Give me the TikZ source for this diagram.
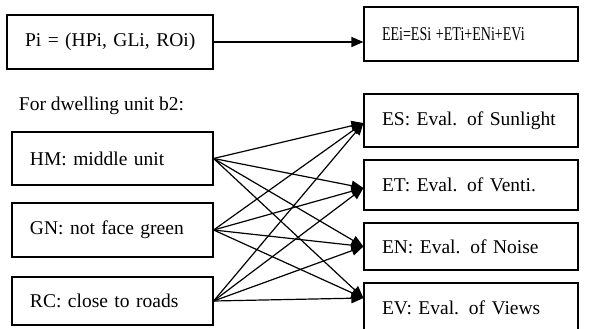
\documentclass[tikz,border=0pt]{standalone}
\usepackage{fontspec}
\setmainfont{Liberation Serif}
\usepackage{graphicx}
\usetikzlibrary{arrows.meta}

\tikzset{
    box/.style={draw, line width=1.2pt, inner xsep=18pt, inner ysep=0pt, align=left},
    lbox/.style={box, text width=165pt},
    rbox/.style={box, text width=178pt},
}

\begin{document}
\begin{tikzpicture}[>={Triangle[length=12pt, width=10pt]}, x=1pt, y=-1pt, line width=1.2pt,
        font=\fontsize{19.5}{23}\selectfont]
    \useasboundingbox (0, 0) rectangle (606, 329);

    \node[box, text width=170pt, minimum height=54pt] (P) at (110, 42) {\mbox{Pi = (HPi, GLi, ROi)}};
    \node[rbox, minimum height=54pt] (EE) at (471, 34) {\scalebox{0.72}[1]{EEi=ESi +ETi+ENi+EVi}};
    \draw[->] (P.east) -- (P.east -| EE.west);

    \node[anchor=west] (unit) at (15, 106) {For dwelling unit b2:};

    % attributes of the unit
    \node[lbox, minimum height=53pt] (HM) at (112.5, 158.5) {HM: middle unit};
    \node[lbox, minimum height=54pt] (GN) at (112.5, 230) {GN: not face green};
    \node[lbox, minimum height=48pt] (RC) at (112.5, 301) {RC: close to roads};

    % evaluations
    \node[rbox, minimum height=53pt] (ES) at (471, 120.5) {ES: Eval. of Sunlight};
    \node[rbox, minimum height=50pt] (ET) at (471, 185) {ET: Eval. of Venti.};
    \node[rbox, minimum height=47pt] (EN) at (471, 246.5) {EN: Eval. of Noise};
    \node[rbox, minimum height=50pt] (EV) at (471, 308) {EV: Eval. of Views};

    \coordinate (ESin) at ([yshift=-2.5pt]ES.west);
    \coordinate (ETin) at ([yshift=-3pt]ET.west);
    \coordinate (ENin) at (EN.west);
    \coordinate (EVin) at ([yshift=10pt]EV.west);

    \foreach \s in {HM, GN, RC}
        \foreach \t in {ESin, ETin, ENin, EVin}
            \draw[->] (\s.east) -- (\t);
\end{tikzpicture}
\end{document}
